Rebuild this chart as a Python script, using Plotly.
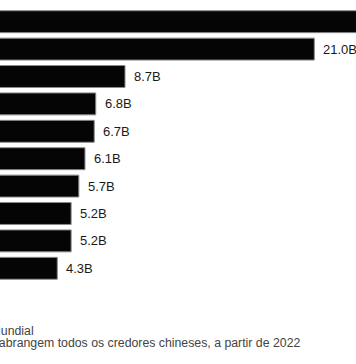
import plotly.graph_objects as go

countries = ["Paquistão", "Angola", "Sri Lanka", "Etiópia", "Quênia",
             "Bangladesh", "Zâmbia", "Laos", "Egito", "Nigéria"]
debt_billions = [26.6, 21.0, 8.7, 6.8, 6.7, 6.1, 5.7, 5.2, 5.2, 4.3]
value_labels = ["26.6B", "21.0B", "8.7B", "6.8B", "6.7B", "6.1B", "5.7B", "5.2B", "5.2B", "4.3B"]
source_text = "Fonte: Banco Mundial"
note_text = "Nota: Os dados abrangem todos os credores chineses, a partir de 2022"

fig = go.Figure()
fig.add_trace(go.Bar(
    x=debt_billions,
    y=countries,
    orientation="h",
    marker=dict(color="#050505", line=dict(color="#8a8a8a", width=1)),
    hoverinfo="skip",
))

for c, v, lab in zip(countries, debt_billions, value_labels):
    fig.add_annotation(x=v, y=c, xref="x", yref="y", text=lab, showarrow=False,
                       xanchor="left", yanchor="middle", xshift=7,
                       font=dict(family="Liberation Sans, Arial", size=13, color="#1a1a1a"))

foot_font = dict(family="Liberation Sans, Arial", size=12.3, color="#444")
fig.add_annotation(x=-0.2466, y=-0.1789, xref="paper", yref="paper",
                   text=source_text, showarrow=False,
                   xanchor="left", yanchor="middle", align="left", font=foot_font)
fig.add_annotation(x=-0.2581, y=-0.2227, xref="paper", yref="paper",
                   text=note_text, showarrow=False,
                   xanchor="left", yanchor="middle", align="left", font=foot_font)

fig.update_layout(
    width=356, height=364,
    margin=dict(l=0, r=0, t=8.3, b=81.8, pad=0),
    paper_bgcolor="white", plot_bgcolor="white",
    bargap=0.2,
    showlegend=False,
    hovermode=False,
    xaxis=dict(range=[0.578, 23.71], visible=False, showgrid=False, zeroline=False),
    yaxis=dict(range=[9.5, -0.5], showticklabels=False, showgrid=False, zeroline=False,
               ticks="", categoryorder="array", categoryarray=countries),
)

fig.write_html("out.html", config={"displayModeBar": False},
               post_script="document.body.style.margin='0';document.body.style.overflow='hidden';")
